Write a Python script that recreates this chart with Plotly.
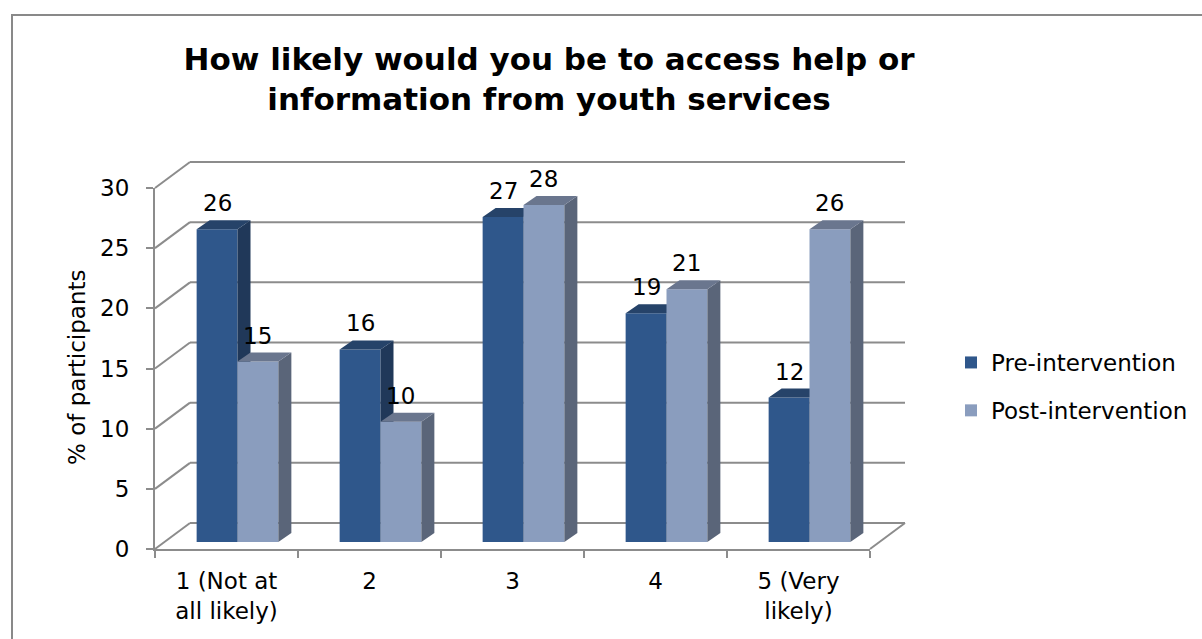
import numpy as np
import plotly.graph_objects as go

# ---- data -----------------------------------------------------------------
categories = ["1 (Not at<br>all likely)", "2", "3", "4", "5 (Very<br>likely)"]
pre_values = [26, 16, 27, 19, 12]
post_values = [15, 10, 28, 21, 26]
series_names = ["Pre-intervention", "Post-intervention"]
y_ticks = [0, 5, 10, 15, 20, 25, 30]

# ---- geometry ---------------------------------------------------------------
W, H = 1202, 639
PL, PR, PT, PB = 155, 870, 188, 549          # front plane of the plot box (px)
Y_MAX = y_ticks[-1]
n = len(categories)
cat_px = (PR - PL) / n
unit_px = (PB - PT) / Y_MAX


def cx(px):
    return px / cat_px


def cy(px):
    return px / unit_px


BACK = (cx(35), cy(26))     # offset of the back wall
MID = (cx(11), cy(7))       # offset of the bar row
DEPTH = (cx(13), cy(9))     # visible depth of each bar
BAR_W = 2 / 7               # gap width 150 %
X0, X1 = -0.5, n - 0.5

FONT = "DejaVu Sans"
FS = 23
GRID = "#8c8c8c"
colors = {
    "pre": ("#2f578b", "#203859", "#264369"),
    "post": ("#8a9dbe", "#5a6579", "#6a768e"),
}

idx = np.arange(n)

fig = go.Figure()

# keeps the front-plane subplot alive
fig.add_trace(go.Scatter(x=[], y=[], xaxis="x2", yaxis="y2",
                         showlegend=False, hoverinfo="skip"))


def faces(values, left_off):
    side_x, side_y, top_x, top_y = [], [], [], []
    for i, v in zip(idx, values):
        L = i + left_off
        R = L + BAR_W
        side_x += [R, R + DEPTH[0], R + DEPTH[0], R, R, None]
        side_y += [0, DEPTH[1], v + DEPTH[1], v, 0, None]
        top_x += [L, R, R + DEPTH[0], L + DEPTH[0], L, None]
        top_y += [v, v, v + DEPTH[1], v + DEPTH[1], v, None]
    return side_x, side_y, top_x, top_y


series = [
    ("pre", series_names[0], pre_values, -BAR_W, "x3", "y3"),
    ("post", series_names[1], post_values, 0.0, "x4", "y4"),
]

for key, name, vals, off, xa, ya in series:
    front, side, top = colors[key]
    fig.add_trace(go.Bar(
        x=idx, y=vals, width=BAR_W, offset=off, name=name,
        marker=dict(color=front, line=dict(width=0)),
        xaxis=xa, yaxis=ya, legendgroup=key, hoverinfo="skip",
    ))
    sx, sy, tx, ty = faces(vals, off)
    fig.add_trace(go.Scatter(x=sx, y=sy, fill="toself", fillcolor=side,
                             mode="lines", line=dict(width=0, color=side),
                             xaxis=xa, yaxis=ya, showlegend=False,
                             legendgroup=key, hoverinfo="skip"))
    fig.add_trace(go.Scatter(x=tx, y=ty, fill="toself", fillcolor=top,
                             mode="lines", line=dict(width=0, color=top),
                             xaxis=xa, yaxis=ya, showlegend=False,
                             legendgroup=key, hoverinfo="skip"))

# ---- back wall gridlines and floor edge (canvas axes) -----------------------
shapes = []
for v in y_ticks:
    shapes.append(dict(type="line", xref="x", yref="y", layer="below",
                       x0=X0 + BACK[0], x1=X1 + BACK[0],
                       y0=v + BACK[1], y1=v + BACK[1],
                       line=dict(color=GRID, width=2)))
    shapes.append(dict(type="line", xref="x", yref="y", layer="below",
                       x0=X0, x1=X0 + BACK[0], y0=v, y1=v + BACK[1],
                       line=dict(color=GRID, width=2)))
shapes.append(dict(type="line", xref="x", yref="y", layer="below",
                   x0=X1, x1=X1 + BACK[0], y0=0, y1=BACK[1],
                   line=dict(color=GRID, width=2)))
# chart frame
shapes.append(dict(type="rect", xref="paper", yref="paper", layer="below",
                   x0=12 / W, x1=1.05, y0=-0.05, y1=(H - 15) / H,
                   line=dict(color="#898989", width=2)))

# ---- value labels -----------------------------------------------------------
annotations = []
for key, name, vals, off, xa, ya in series:
    for i, v in zip(idx, vals):
        annotations.append(dict(
            x=i + off + BAR_W / 2, y=v, xref=xa, yref=ya, text=str(v),
            showarrow=False, yanchor="middle", yshift=26,
            font=dict(family=FONT, size=FS, color="black")))

annotations.append(dict(
    x=77 / W, y=(H - 367) / H, xref="paper", yref="paper",
    xanchor="center", yanchor="middle",
    text="% of participants", textangle=-90, showarrow=False,
    font=dict(family=FONT, size=FS, color="black")))

front_dom_x = [PL / W, PR / W]
front_dom_y = [(H - PB) / H, (H - PT) / H]
hidden = dict(visible=False, showgrid=False, zeroline=False, fixedrange=True,
              automargin=False)

fig.update_layout(
    width=W, height=H, autosize=False,
    margin=dict(l=0, r=0, t=0, b=0, pad=0, autoexpand=False),
    paper_bgcolor="white", plot_bgcolor="rgba(0,0,0,0)",
    showlegend=True,
    title=dict(
        text="How likely would you be to access help or<br>information from youth services",
        x=549 / W, xanchor="center", y=(H - 69.5) / H, yanchor="middle",
        xref="paper", yref="paper", automargin=False,
        font=dict(family=FONT, size=31, color="black", weight="bold")),
    # canvas spanning the whole page, same scale as the front plane
    xaxis=dict(domain=[0, 1], anchor="y",
               range=[X0 - cx(PL), X0 + cx(W - PL)], **hidden),
    yaxis=dict(domain=[0, 1], anchor="x",
               range=[-cy(H - PB), Y_MAX + cy(PT)], **hidden),
    # front plane: visible axes
    xaxis2=dict(domain=front_dom_x, anchor="y2", range=[X0, X1],
                tickmode="array", tickvals=list(idx), ticktext=categories,
                ticks="", showgrid=False, zeroline=False, automargin=False,
                showline=True, linecolor=GRID, linewidth=2,
                ticklabelstandoff=10,
                tickfont=dict(family=FONT, size=FS, color="black"),
                minor=dict(tickmode="array",
                           tickvals=list(np.arange(X0, X1 + 0.5, 1.0)),
                           ticks="outside", ticklen=7, tickwidth=2,
                           tickcolor=GRID, showgrid=False),
                fixedrange=True),
    yaxis2=dict(domain=front_dom_y, anchor="x2", range=[0, Y_MAX],
                tickmode="array", tickvals=y_ticks,
                ticks="outside", ticklen=7, tickwidth=2, tickcolor=GRID,
                showgrid=False, zeroline=False, automargin=False,
                showline=True, linecolor=GRID, linewidth=2,
                ticklabelstandoff=12,
                tickfont=dict(family=FONT, size=FS, color="black"),
                fixedrange=True),
    # bar row, set slightly behind the front plane
    xaxis3=dict(overlaying="x2", anchor="y3",
                range=[X0 - MID[0], X1 - MID[0]], **hidden),
    yaxis3=dict(overlaying="y2", anchor="x3",
                range=[-MID[1], Y_MAX - MID[1]], **hidden),
    xaxis4=dict(overlaying="x2", anchor="y4",
                range=[X0 - MID[0], X1 - MID[0]], **hidden),
    yaxis4=dict(overlaying="y2", anchor="x4",
                range=[-MID[1], Y_MAX - MID[1]], **hidden),
    barmode="overlay",
    shapes=shapes,
    annotations=annotations,
    legend=dict(x=951 / W, y=(H - 341) / H, xanchor="left", yanchor="top",
                font=dict(family=FONT, size=FS, color="black"),
                bgcolor="rgba(0,0,0,0)", tracegroupgap=15),
)

fig.write_html("out.html")
